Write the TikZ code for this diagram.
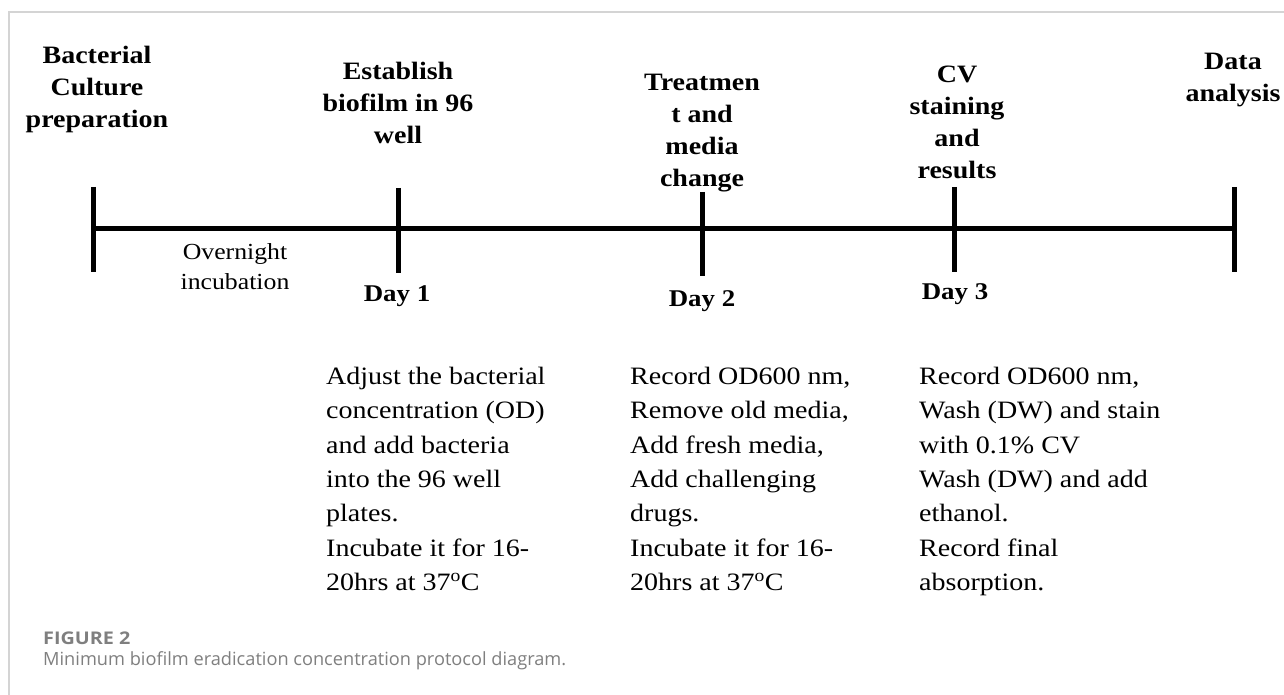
\documentclass[tikz,border=0pt]{standalone}
\usepackage{fontspec}
\setmainfont[FakeStretch=1.12]{Liberation Serif}
\newfontfamily\capfont{Open Sans}
\newfontfamily\figfont[FakeStretch=1.13]{Open Sans}
\usepackage{tikz}
\usetikzlibrary{positioning}
\definecolor{capgray}{HTML}{7F7F7F}
\definecolor{framegray}{HTML}{D4D4D4}

\begin{document}
\begin{tikzpicture}[x=1pt,y=-1pt,
	hdr/.style={font=\fontsize{25}{32}\selectfont\bfseries, align=center, inner sep=0pt, anchor=north},
	day/.style={font=\fontsize{24}{30}\selectfont\bfseries, inner sep=0pt, anchor=north},
	body/.style={font=\fontsize{25}{34.3}\selectfont, align=left, inner sep=0pt, anchor=north west},
	tick/.style={line width=5pt},
	axis/.style={line width=5pt}]
	\useasboundingbox (0,0) rectangle (1284,695);
	\draw[framegray, line width=1.5pt] (9,695) -- (9,12) -- (1284,12);

	% timeline
	\coordinate (t0) at (93,228);
	\coordinate (t1) at (398,228);
	\coordinate (t2) at (702,228);
	\coordinate (t3) at (954,228);
	\coordinate (t4) at (1234,228);
	\coordinate (t0u) at (93,187);   \coordinate (t0d) at (93,272);
	\coordinate (t1u) at (398,188);  \coordinate (t1d) at (398,273);
	\coordinate (t2u) at (702,192);  \coordinate (t2d) at (702,276);
	\coordinate (t3u) at (954,187);  \coordinate (t3d) at (954,272);
	\coordinate (t4u) at (1234,187); \coordinate (t4d) at (1234,272);
	\draw[axis] (t0) -- (t4);
	\path[tick]
	(t0u) edge (t0d)
	(t1u) edge (t1d)
	(t2u) edge (t2d)
	(t3u) edge (t3d)
	(t4u) edge (t4d)
	;

	% steps above the line
	\node[hdr] (cult)  at (97,46)   {Bacterial\\Culture\\preparation};
	\node[hdr] (est)   at (398,62)  {Establish\\biofilm in 96\\well};
	\node[hdr] (treat) at (702,74)  {Treatmen\\t and\\media\\change};
	\node[hdr] (stain) at (957,66)  {CV\\staining\\and\\results};
	\node[hdr] (data)  at (1233,53) {Data\\analysis};

	% below the line
	\node[font=\fontsize{23}{30}\selectfont, align=center, inner sep=0pt, anchor=north] (night) at (235,243) {Overnight\\incubation};
	\node[day] (d1) at (397,285) {Day 1};
	\node[day] (d2) at (702,290) {Day 2};
	\node[day] (d3) at (955,283) {Day 3};

	\node[body] (s1) at (326,367) {Adjust the bacterial\\concentration (OD)\\and add bacteria\\into the 96 well\\plates.\\Incubate it for 16-\\20hrs at 37\textsuperscript{o}C};
	\node[body] (s2) at (630,367) {Record OD600 nm,\\Remove old media,\\Add fresh media,\\Add challenging\\drugs.\\Incubate it for 16-\\20hrs at 37\textsuperscript{o}C};
	\node[body] (s3) at (919,367) {Record OD600 nm,\\Wash (DW) and stain\\with 0.1\% CV\\Wash (DW) and add\\ethanol.\\Record final\\absorption.};

	% caption
	\node[font=\figfont\fontsize{17.5}{20}\selectfont\bfseries, text=capgray, inner sep=0pt, anchor=north west] (fig) at (43,632) {FIGURE 2};
	\node[font=\capfont\fontsize{18.2}{20}\selectfont, text=capgray, inner sep=0pt, anchor=north west] (cap) at (43,651) {Minimum biofilm eradication concentration protocol diagram.};
\end{tikzpicture}
\end{document}
